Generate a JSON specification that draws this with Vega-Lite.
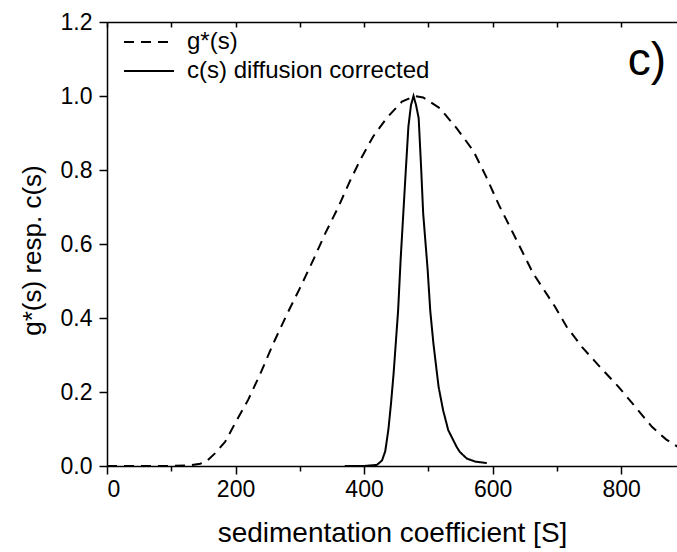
{
  "$schema": "https://vega.github.io/schema/vega-lite/v6.json",
  "width": 570,
  "height": 444,
  "autosize": {"type": "none"},
  "padding": {"left": 107, "top": 22, "right": 0, "bottom": 86},
  "background": "white",
  "config": {
    "view": {"stroke": null},
    "font": "Liberation Sans",
    "axis": {
      "domainColor": "black",
      "domainWidth": 1.5,
      "tickColor": "black",
      "tickWidth": 1.5,
      "labelColor": "black",
      "labelFont": "Liberation Sans",
      "labelFontSize": 23,
      "titleFont": "Liberation Sans",
      "titleFontSize": 26,
      "titleFontWeight": "normal",
      "titleColor": "black",
      "grid": false
    }
  },
  "layer": [
    {
      "data": {
        "values": [
          {"s": 0, "v": 0, "series": "g*(s)"},
          {"s": 50, "v": 0, "series": "g*(s)"},
          {"s": 100, "v": 0, "series": "g*(s)"},
          {"s": 130, "v": 0.002, "series": "g*(s)"},
          {"s": 145, "v": 0.006, "series": "g*(s)"},
          {"s": 155, "v": 0.013, "series": "g*(s)"},
          {"s": 168, "v": 0.034, "series": "g*(s)"},
          {"s": 184, "v": 0.066, "series": "g*(s)"},
          {"s": 202, "v": 0.124, "series": "g*(s)"},
          {"s": 220, "v": 0.18, "series": "g*(s)"},
          {"s": 240, "v": 0.255, "series": "g*(s)"},
          {"s": 259, "v": 0.332, "series": "g*(s)"},
          {"s": 280, "v": 0.41, "series": "g*(s)"},
          {"s": 300, "v": 0.48, "series": "g*(s)"},
          {"s": 321, "v": 0.557, "series": "g*(s)"},
          {"s": 340, "v": 0.63, "series": "g*(s)"},
          {"s": 360, "v": 0.7, "series": "g*(s)"},
          {"s": 378, "v": 0.77, "series": "g*(s)"},
          {"s": 394, "v": 0.827, "series": "g*(s)"},
          {"s": 414, "v": 0.89, "series": "g*(s)"},
          {"s": 435, "v": 0.94, "series": "g*(s)"},
          {"s": 459, "v": 0.985, "series": "g*(s)"},
          {"s": 479, "v": 1.0, "series": "g*(s)"},
          {"s": 492, "v": 0.996, "series": "g*(s)"},
          {"s": 518, "v": 0.967, "series": "g*(s)"},
          {"s": 544, "v": 0.913, "series": "g*(s)"},
          {"s": 570, "v": 0.852, "series": "g*(s)"},
          {"s": 590, "v": 0.782, "series": "g*(s)"},
          {"s": 610, "v": 0.705, "series": "g*(s)"},
          {"s": 632, "v": 0.629, "series": "g*(s)"},
          {"s": 663, "v": 0.521, "series": "g*(s)"},
          {"s": 697, "v": 0.431, "series": "g*(s)"},
          {"s": 715, "v": 0.377, "series": "g*(s)"},
          {"s": 739, "v": 0.322, "series": "g*(s)"},
          {"s": 767, "v": 0.268, "series": "g*(s)"},
          {"s": 796, "v": 0.214, "series": "g*(s)"},
          {"s": 822, "v": 0.16, "series": "g*(s)"},
          {"s": 848, "v": 0.106, "series": "g*(s)"},
          {"s": 870, "v": 0.072, "series": "g*(s)"},
          {"s": 890, "v": 0.05, "series": "g*(s)"},
          {"s": 370, "v": 0, "series": "c(s) diffusion corrected"},
          {"s": 400, "v": 0, "series": "c(s) diffusion corrected"},
          {"s": 420, "v": 0.003, "series": "c(s) diffusion corrected"},
          {"s": 428, "v": 0.015, "series": "c(s) diffusion corrected"},
          {"s": 433, "v": 0.04, "series": "c(s) diffusion corrected"},
          {"s": 438, "v": 0.1, "series": "c(s) diffusion corrected"},
          {"s": 442, "v": 0.17, "series": "c(s) diffusion corrected"},
          {"s": 446, "v": 0.25, "series": "c(s) diffusion corrected"},
          {"s": 453, "v": 0.42, "series": "c(s) diffusion corrected"},
          {"s": 457, "v": 0.56, "series": "c(s) diffusion corrected"},
          {"s": 461, "v": 0.68, "series": "c(s) diffusion corrected"},
          {"s": 465, "v": 0.8, "series": "c(s) diffusion corrected"},
          {"s": 469, "v": 0.917, "series": "c(s) diffusion corrected"},
          {"s": 473, "v": 0.975, "series": "c(s) diffusion corrected"},
          {"s": 477, "v": 1.0, "series": "c(s) diffusion corrected"},
          {"s": 481, "v": 0.975, "series": "c(s) diffusion corrected"},
          {"s": 485, "v": 0.94, "series": "c(s) diffusion corrected"},
          {"s": 489, "v": 0.8, "series": "c(s) diffusion corrected"},
          {"s": 492, "v": 0.683, "series": "c(s) diffusion corrected"},
          {"s": 499, "v": 0.53, "series": "c(s) diffusion corrected"},
          {"s": 503, "v": 0.42, "series": "c(s) diffusion corrected"},
          {"s": 508, "v": 0.33, "series": "c(s) diffusion corrected"},
          {"s": 516, "v": 0.214, "series": "c(s) diffusion corrected"},
          {"s": 523, "v": 0.151, "series": "c(s) diffusion corrected"},
          {"s": 531, "v": 0.097, "series": "c(s) diffusion corrected"},
          {"s": 544, "v": 0.052, "series": "c(s) diffusion corrected"},
          {"s": 549, "v": 0.038, "series": "c(s) diffusion corrected"},
          {"s": 560, "v": 0.02, "series": "c(s) diffusion corrected"},
          {"s": 573, "v": 0.012, "series": "c(s) diffusion corrected"},
          {"s": 591, "v": 0.008, "series": "c(s) diffusion corrected"}
        ]
      },
      "mark": {"type": "line", "color": "black", "strokeWidth": 2, "clip": true},
      "encoding": {
        "x": {
          "field": "s",
          "type": "quantitative",
          "scale": {"domain": [0, 887], "nice": false, "zero": false},
          "axis": {
            "orient": "bottom",
            "values": [0, 100, 200, 300, 400, 500, 600, 700, 800],
            "labelExpr": "datum.value % 200 === 0 ? datum.label : ''",
            "format": "d",
            "tickSize": {"condition": {"test": "datum.value % 200 === 0", "value": 8}, "value": 5},
            "labelPadding": 4,
            "title": "sedimentation coefficient [S]",
            "titleFontSize": 28,
            "titlePadding": 18
          }
        },
        "y": {
          "field": "v",
          "type": "quantitative",
          "scale": {"domain": [0, 1.2], "nice": false},
          "axis": {
            "values": [0, 0.1, 0.2, 0.3, 0.4, 0.5, 0.6, 0.7, 0.8, 0.9, 1.0, 1.1, 1.2],
            "labelExpr": "round(datum.value * 10) % 2 === 0 ? format(datum.value, '.1f') : ''",
            "tickSize": {"condition": {"test": "round(datum.value * 10) % 2 === 0", "value": 8}, "value": 5},
            "labelPadding": 7,
            "title": "g*(s) resp. c(s)",
            "titleY": 228,
            "titlePadding": 15
          }
        },
        "strokeDash": {
          "field": "series",
          "type": "nominal",
          "scale": {
            "domain": ["g*(s)", "c(s) diffusion corrected"],
            "range": [[10, 7], [1, 0]]
          },
          "legend": {
            "orient": "none",
            "legendX": 30,
            "legendY": 8,
            "title": null,
            "symbolType": "M-2.5,0H2.5",
            "symbolSize": 400,
            "symbolStrokeWidth": 2,
            "symbolStrokeColor": "black",
            "symbolFillColor": "transparent",
            "labelFontSize": 24,
            "labelColor": "black",
            "labelFont": "Liberation Sans",
            "labelLimit": 0,
            "labelOffset": 26,
            "rowPadding": 5
          }
        }
      }
    },
    {
      "data": {"values": [{"s": 840, "v": 1.057, "label": "c)"}]},
      "mark": {"type": "text", "fontSize": 46, "font": "Liberation Sans", "color": "black", "align": "center", "baseline": "alphabetic"},
      "encoding": {
        "x": {
          "field": "s",
          "type": "quantitative",
          "axis": {
            "orient": "top",
            "values": [0, 100, 200, 300, 400, 500, 600, 700, 800],
            "labels": false,
            "tickSize": -5,
            "title": null
          }
        },
        "y": {"field": "v", "type": "quantitative"},
        "text": {"field": "label"}
      }
    }
  ]
}
